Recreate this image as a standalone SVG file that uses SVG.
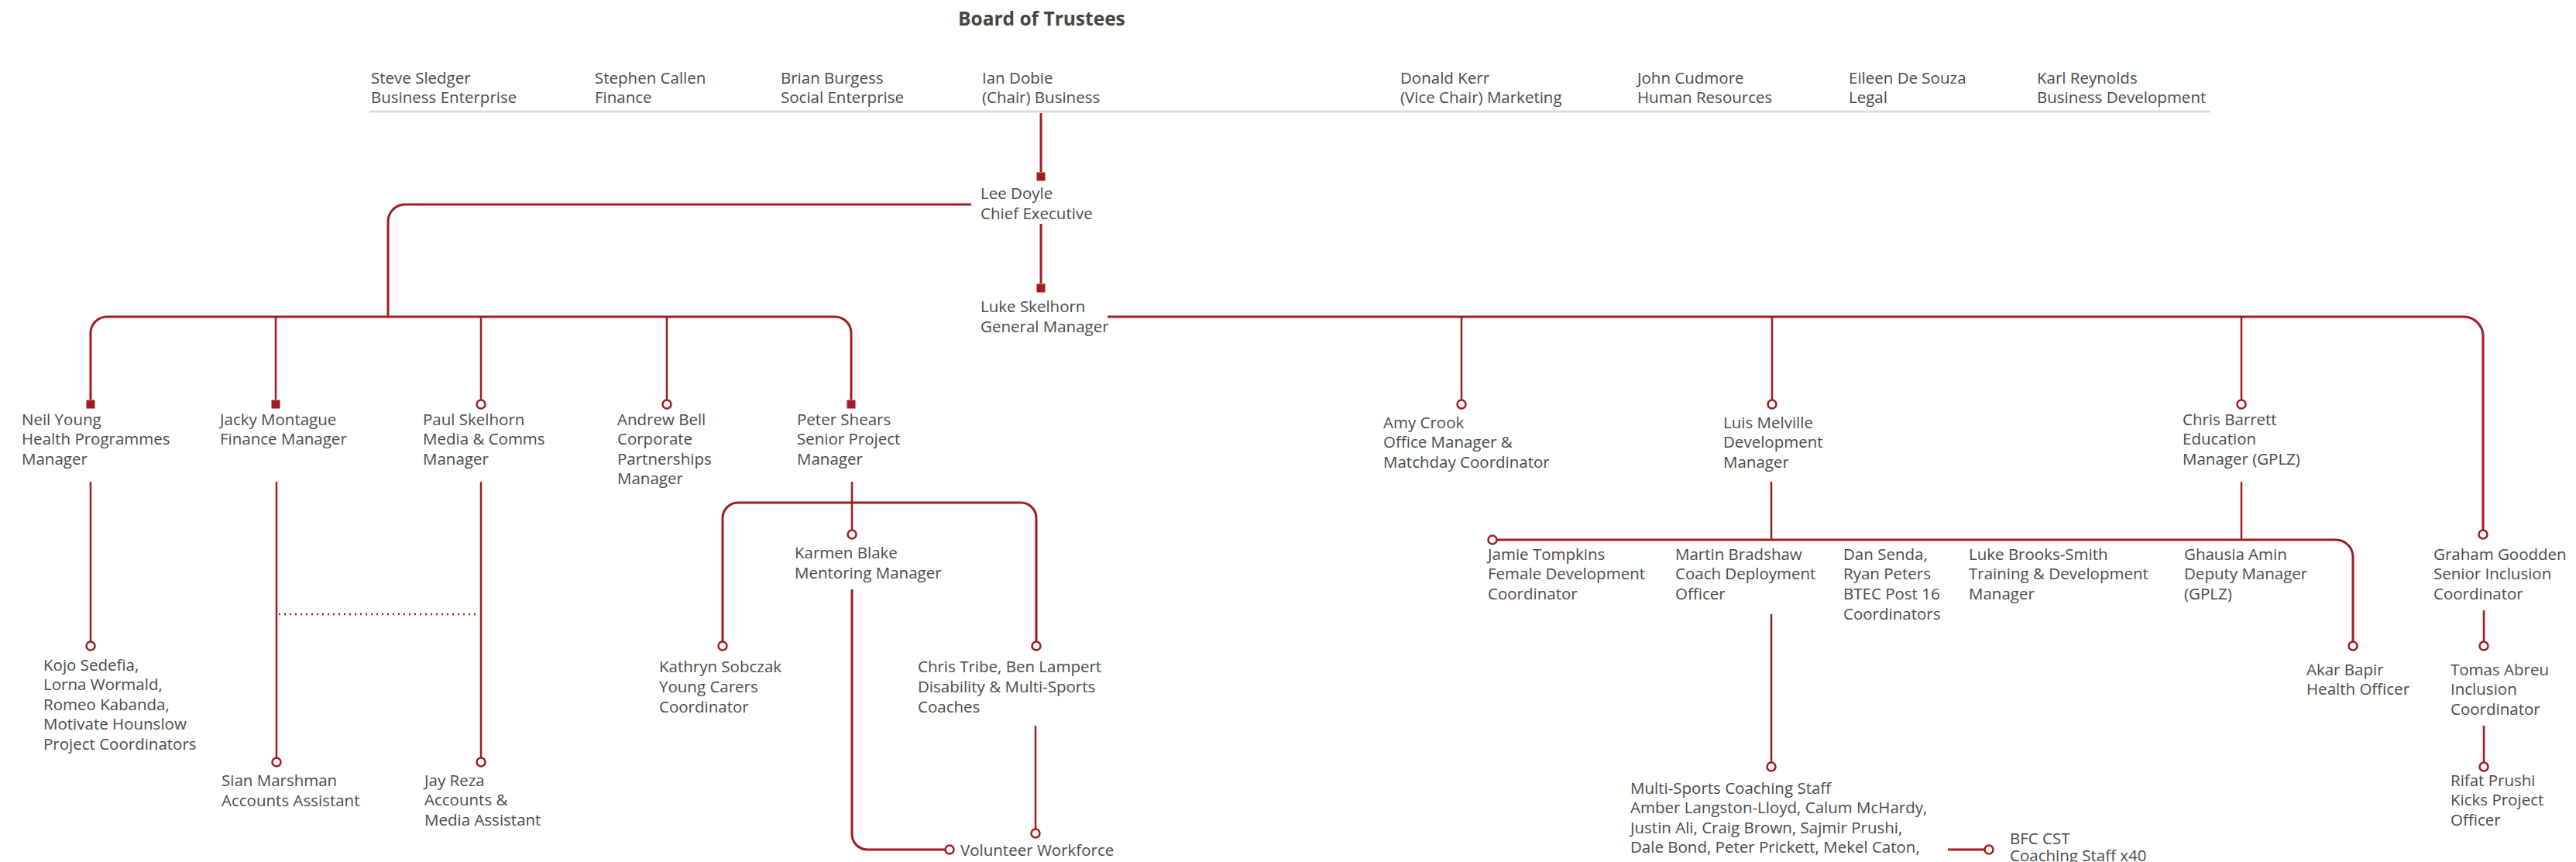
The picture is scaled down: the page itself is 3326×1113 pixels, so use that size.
<svg xmlns="http://www.w3.org/2000/svg" width="3326" height="1113" viewBox="0 0 3326 1113">
<style>
text{font-family:"Open Sans","Noto Sans",sans-serif;font-size:20.5px;fill:#4a4a4a}
.title{font-weight:bold;font-size:24.5px;fill:#444}
.ln{fill:none;stroke:#a01c21;stroke-width:3}
.v{fill:none;stroke:#a01c21;stroke-width:2.5}
.dot{fill:none;stroke:#a01c21;stroke-width:2.5;stroke-dasharray:2 5}
.sq{fill:#a01c21}
.ci{fill:#fff;stroke:#a01c21;stroke-width:2.5}
.rule{stroke:#dcdcdc;stroke-width:3}
</style>
<rect width="3326" height="1113" fill="#fff"/>
<g id="board">
<text class="title" x="1237" y="33">Board of Trustees</text>
<line class="rule" x1="477" y1="144" x2="2854" y2="144"/>
<text x="479" y="108">Steve Sledger</text><text x="479" y="133">Business Enterprise</text>
<text x="768" y="108">Stephen Callen</text><text x="768" y="133">Finance</text>
<text x="1008" y="108">Brian Burgess</text><text x="1008" y="133">Social Enterprise</text>
<text x="1268" y="108">Ian Dobie</text><text x="1268" y="133">(Chair) Business</text>
<text x="1808" y="108">Donald Kerr</text><text x="1808" y="133">(Vice Chair) Marketing</text>
<text x="2114" y="108">John Cudmore</text><text x="2114" y="133">Human Resources</text>
<text x="2387" y="108">Eileen De Souza</text><text x="2387" y="133">Legal</text>
<text x="2630" y="108">Karl Reynolds</text><text x="2630" y="133">Business Development</text>
</g>
<g id="connectors">
<path class="ln" d="M1344 146V222"/>
<path class="ln" d="M1344 289V366"/>
<path class="ln" d="M1254 264H523A22 22 0 0 0 501 286V409"/>
<path class="ln" d="M117 516V430A21 21 0 0 1 138 409H1078A21 21 0 0 1 1099 430V516"/>
<path class="v" d="M356 409V516M621 409V516M861 409V516"/>
<path class="ln" d="M1430 409H3181A25 25 0 0 1 3206 434V684"/>
<path class="v" d="M1887 409V516M2288 409V516M2894 409V516"/>
<path class="v" d="M117 622V828M357 622V978M621 622V978"/>
<path class="dot" d="M360 793H619"/>
<path class="v" d="M1100 622V684"/>
<path class="ln" d="M933 828V669A20 20 0 0 1 953 649H1318A20 20 0 0 1 1338 669V828"/>
<path class="ln" d="M1100 761V1077A20 20 0 0 0 1120 1097H1220"/>
<path class="v" d="M1337 937V1070"/>
<path class="v" d="M2287 622V697M2894 622V697"/>
<path class="ln" d="M1933 697H3016A22 22 0 0 1 3038 719V828"/>
<path class="v" d="M2287 793V984"/>
<path class="v" d="M3207 788V828M3207 937V984"/>
<path class="ln" d="M2515 1097H2562"/>
</g>
<g id="lee-doyle"><rect class="sq" x="1338.5" y="222.5" width="11" height="11"/><text x="1266" y="257">Lee Doyle</text><text x="1266" y="283">Chief Executive</text></g>
<g id="luke-skelhorn"><rect class="sq" x="1338.5" y="366.5" width="11" height="11"/><text x="1266" y="403">Luke Skelhorn</text><text x="1266" y="429">General Manager</text></g>
<g id="neil-young"><rect class="sq" x="111.5" y="516.5" width="11" height="11"/><text x="28" y="549">Neil Young</text><text x="28" y="574">Health Programmes</text><text x="28" y="600">Manager</text></g>
<g id="jacky-montague"><rect class="sq" x="350.5" y="516.5" width="11" height="11"/><text x="284" y="549">Jacky Montague</text><text x="284" y="574">Finance Manager</text></g>
<g id="paul-skelhorn"><circle class="ci" cx="621" cy="522" r="5.5"/><text x="546" y="549">Paul Skelhorn</text><text x="546" y="574">Media &amp; Comms</text><text x="546" y="600">Manager</text></g>
<g id="andrew-bell"><circle class="ci" cx="861" cy="522" r="5.5"/><text x="797" y="549">Andrew Bell</text><text x="797" y="574">Corporate</text><text x="797" y="600">Partnerships</text><text x="797" y="625">Manager</text></g>
<g id="peter-shears"><rect class="sq" x="1093.5" y="516.5" width="11" height="11"/><text x="1029" y="549">Peter Shears</text><text x="1029" y="574">Senior Project</text><text x="1029" y="600">Manager</text></g>
<g id="amy-crook"><circle class="ci" cx="1887" cy="522" r="5.5"/><text x="1786" y="553">Amy Crook</text><text x="1786" y="578">Office Manager &amp;</text><text x="1786" y="604">Matchday Coordinator</text></g>
<g id="luis-melville"><circle class="ci" cx="2288" cy="522" r="5.5"/><text x="2225" y="553">Luis Melville</text><text x="2225" y="578">Development</text><text x="2225" y="604">Manager</text></g>
<g id="chris-barrett"><circle class="ci" cx="2894" cy="522" r="5.5"/><text x="2818" y="549">Chris Barrett</text><text x="2818" y="574">Education</text><text x="2818" y="600">Manager (GPLZ)</text></g>
<g id="graham-goodden"><circle class="ci" cx="3206" cy="690" r="5.5"/><text x="3142" y="723">Graham Goodden</text><text x="3142" y="748">Senior Inclusion</text><text x="3142" y="774">Coordinator</text></g>
<g id="kojo-sedefia"><circle class="ci" cx="117" cy="834" r="5.5"/><text x="56" y="866">Kojo Sedefia,</text><text x="56" y="891">Lorna Wormald,</text><text x="56" y="917">Romeo Kabanda,</text><text x="56" y="942">Motivate Hounslow</text><text x="56" y="968">Project Coordinators</text></g>
<g id="sian-marshman"><circle class="ci" cx="357" cy="984" r="5.5"/><text x="286" y="1015">Sian Marshman</text><text x="286" y="1041">Accounts Assistant</text></g>
<g id="jay-reza"><circle class="ci" cx="621" cy="984" r="5.5"/><text x="548" y="1015">Jay Reza</text><text x="548" y="1040">Accounts &amp;</text><text x="548" y="1066">Media Assistant</text></g>
<g id="karmen-blake"><circle class="ci" cx="1100" cy="690" r="5.5"/><text x="1026" y="721">Karmen Blake</text><text x="1026" y="747">Mentoring Manager</text></g>
<g id="kathryn-sobczak"><circle class="ci" cx="933" cy="834" r="5.5"/><text x="851" y="868">Kathryn Sobczak</text><text x="851" y="894">Young Carers</text><text x="851" y="920">Coordinator</text></g>
<g id="chris-tribe"><circle class="ci" cx="1338" cy="834" r="5.5"/><text x="1185" y="868">Chris Tribe, Ben Lampert</text><text x="1185" y="894">Disability &amp; Multi-Sports</text><text x="1185" y="920">Coaches</text></g>
<g id="volunteer-workforce"><circle class="ci" cx="1226" cy="1097" r="5.5"/><circle class="ci" cx="1337" cy="1076" r="5.5"/><text x="1240" y="1105">Volunteer Workforce</text></g>
<g id="jamie-tompkins"><circle class="ci" cx="1927" cy="697" r="5.5"/><text x="1921" y="723">Jamie Tompkins</text><text x="1921" y="748">Female Development</text><text x="1921" y="774">Coordinator</text></g>
<g id="martin-bradshaw"><text x="2163" y="723">Martin Bradshaw</text><text x="2163" y="748">Coach Deployment</text><text x="2163" y="774">Officer</text></g>
<g id="dan-senda"><text x="2380" y="723">Dan Senda,</text><text x="2380" y="748">Ryan Peters</text><text x="2380" y="774">BTEC Post 16</text><text x="2380" y="800">Coordinators</text></g>
<g id="luke-brooks-smith"><text x="2542" y="723">Luke Brooks-Smith</text><text x="2542" y="748">Training &amp; Development</text><text x="2542" y="774">Manager</text></g>
<g id="ghausia-amin"><text x="2820" y="723">Ghausia Amin</text><text x="2820" y="748">Deputy Manager</text><text x="2820" y="774">(GPLZ)</text></g>
<g id="akar-bapir"><circle class="ci" cx="3038" cy="834" r="5.5"/><text x="2978" y="872">Akar Bapir</text><text x="2978" y="897">Health Officer</text></g>
<g id="tomas-abreu"><circle class="ci" cx="3207" cy="834" r="5.5"/><text x="3164" y="872">Tomas Abreu</text><text x="3164" y="897">Inclusion</text><text x="3164" y="923">Coordinator</text></g>
<g id="rifat-prushi"><circle class="ci" cx="3207" cy="990" r="5.5"/><text x="3164" y="1015">Rifat Prushi</text><text x="3164" y="1040">Kicks Project</text><text x="3164" y="1066">Officer</text></g>
<g id="multi-sports"><circle class="ci" cx="2287" cy="990" r="5.5"/><text x="2105" y="1025">Multi-Sports Coaching Staff</text><text x="2105" y="1050">Amber Langston-Lloyd, Calum McHardy,</text><text x="2105" y="1076">Justin Ali, Craig Brown, Sajmir Prushi,</text><text x="2105" y="1101">Dale Bond, Peter Prickett, Mekel Caton,</text></g>
<g id="bfc-cst"><circle class="ci" cx="2568" cy="1097" r="5.5"/><text x="2595" y="1090">BFC CST</text><text x="2595" y="1112">Coaching Staff x40</text></g>
</svg>
